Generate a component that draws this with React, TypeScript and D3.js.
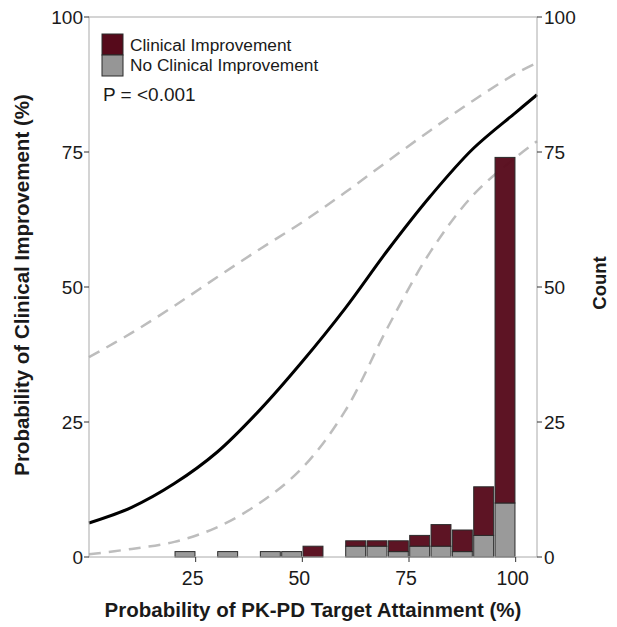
import React from "react";
import * as d3 from "d3";

// histogram bins (start of each 5-point bin) and counts per outcome
const binStarts = [20, 30, 40, 45, 50, 60, 65, 70, 75, 80, 85, 90, 95];
const noImprovement = [1, 1, 1, 1, 0, 2, 2, 1, 2, 2, 1, 4, 10];
const improvement = [0, 0, 0, 0, 2, 1, 1, 2, 2, 4, 4, 9, 64];
const binWidth = 5;

// fitted curve and confidence band
const curveX = [0, 10, 20, 30, 40, 50, 60, 70, 80, 90, 100, 105];
const fitY = [6.3, 9.2, 13.6, 19.4, 27.2, 36.2, 46, 56.8, 66.8, 75.6, 82.3, 85.6];
const upperY = [37, 41.5, 46.5, 51.8, 57, 62, 67.5, 73.3, 79, 84.5, 89.5, 91.5];
const lowerY = [0.5, 1.5, 2.8, 5.5, 10, 16.5, 27, 42.5, 56.5, 67, 74, 77];

const xTicks = [25, 50, 75, 100];
const yTicks = [0, 25, 50, 75, 100];

const RED = "#560a1b";
const GRAY = "#969696";
const FONT = "'Liberation Sans', Arial, Helvetica, sans-serif";

const App: React.FC = () => {
  const width = 617;
  const height = 627;
  const left = 89;
  const right = 537;
  const top = 17;
  const bottom = 557;

  const x = d3.scaleLinear().domain([0, 105]).range([left, right]);
  const y = d3.scaleLinear().domain([0, 100]).range([bottom, top]);
  const yCount = d3.scaleLinear().domain([0, 100]).range([bottom, top]);

  const rows = binStarts.map((b, i) => ({
    start: b,
    no: noImprovement[i],
    yes: improvement[i],
  }));
  const stacked = d3.stack<{ start: number; no: number; yes: number }>().keys(["no", "yes"])(rows);

  const line = d3
    .line<number>()
    .x((_, i) => x(curveX[i]))
    .y((d) => y(d))
    .curve(d3.curveCatmullRom.alpha(0.5));

  const axisColor = "#aaaaaa";
  const textColor = "#1a1a1a";

  return (
    <svg
      width={width}
      height={height}
      style={{ position: "absolute", left: 0, top: 0, background: "#fff" }}
      fontFamily={FONT}
    >
      {/* confidence band and fit */}
      <path d={line(upperY)!} fill="none" stroke="#bdbdbd" strokeWidth={2.5} strokeDasharray="12,8" />
      <path d={line(lowerY)!} fill="none" stroke="#bdbdbd" strokeWidth={2.5} strokeDasharray="12,8" />
      <path d={line(fitY)!} fill="none" stroke="#000" strokeWidth={3} />

      {/* stacked histogram */}
      {stacked.map((series) => (
        <g key={series.key}>
          {series.map((d, i) =>
            d[1] - d[0] > 0 ? (
              <rect
                key={i}
                x={x(d.data.start) + 0.7}
                width={x(d.data.start + binWidth) - x(d.data.start) - 1.4}
                y={yCount(d[1])}
                height={yCount(d[0]) - yCount(d[1])}
                fill={series.key === "no" ? GRAY : RED}
                fillOpacity={0.96}
                stroke="#2b2b2b"
                strokeWidth={1}
              />
            ) : null
          )}
        </g>
      ))}

      {/* frame */}
      <rect x={left} y={top} width={right - left} height={bottom - top} fill="none" stroke={axisColor} strokeWidth={1} />

      {/* left axis */}
      {yTicks.map((t) => (
        <g key={"l" + t}>
          <line x1={left - 5} x2={left} y1={y(t)} y2={y(t)} stroke="#333" strokeWidth={1} />
          <text x={left - 6} y={y(t)} dy="0.36em" textAnchor="end" fontSize={19} fill={textColor}>
            {t}
          </text>
        </g>
      ))}

      {/* right axis */}
      {yTicks.map((t) => (
        <g key={"r" + t}>
          <line x1={right} x2={right + 5} y1={yCount(t)} y2={yCount(t)} stroke="#333" strokeWidth={1} />
          <text x={right + 7} y={yCount(t)} dy="0.36em" textAnchor="start" fontSize={19} fill={textColor}>
            {t}
          </text>
        </g>
      ))}

      {/* bottom axis */}
      {xTicks.map((t) => (
        <g key={"b" + t}>
          <line x1={x(t)} x2={x(t)} y1={bottom} y2={bottom + 5} stroke="#333" strokeWidth={1} />
          <text x={x(t) - 3} y={bottom + 28} textAnchor="middle" fontSize={19.5} fill={textColor}>
            {t}
          </text>
        </g>
      ))}

      {/* axis titles */}
      <text
        transform={`translate(29, ${(top + bottom) / 2 - 2}) rotate(-90)`}
        textAnchor="middle"
        fontSize={20.5}
        fontWeight="bold"
        fill={textColor}
      >
        Probability of Clinical Improvement (%)
      </text>
      <text
        transform={`translate(606, ${(top + bottom) / 2 - 4}) rotate(-90)`}
        textAnchor="middle"
        fontSize={18.5}
        fontWeight="bold"
        fill={textColor}
      >
        Count
      </text>
      <text x={(left + right) / 2} y={617} textAnchor="middle" fontSize={20.5} fontWeight="bold" fill={textColor}>
        Probability of PK-PD Target Attainment (%)
      </text>

      {/* legend */}
      <rect x={102} y={34} width={21} height={21} fill={RED} stroke="#2b2b2b" strokeWidth={1} />
      <rect x={102} y={55} width={21} height={21} fill={GRAY} stroke="#2b2b2b" strokeWidth={1} />
      <text x={130} y={45} dy="0.36em" fontSize={17.3} fill={textColor}>
        Clinical Improvement
      </text>
      <text x={130} y={65} dy="0.36em" fontSize={17.3} fill={textColor}>
        No Clinical Improvement
      </text>
      <text x={103} y={94} dy="0.36em" fontSize={19} fill={textColor}>
        P = &lt;0.001
      </text>
    </svg>
  );
};

export default App;
